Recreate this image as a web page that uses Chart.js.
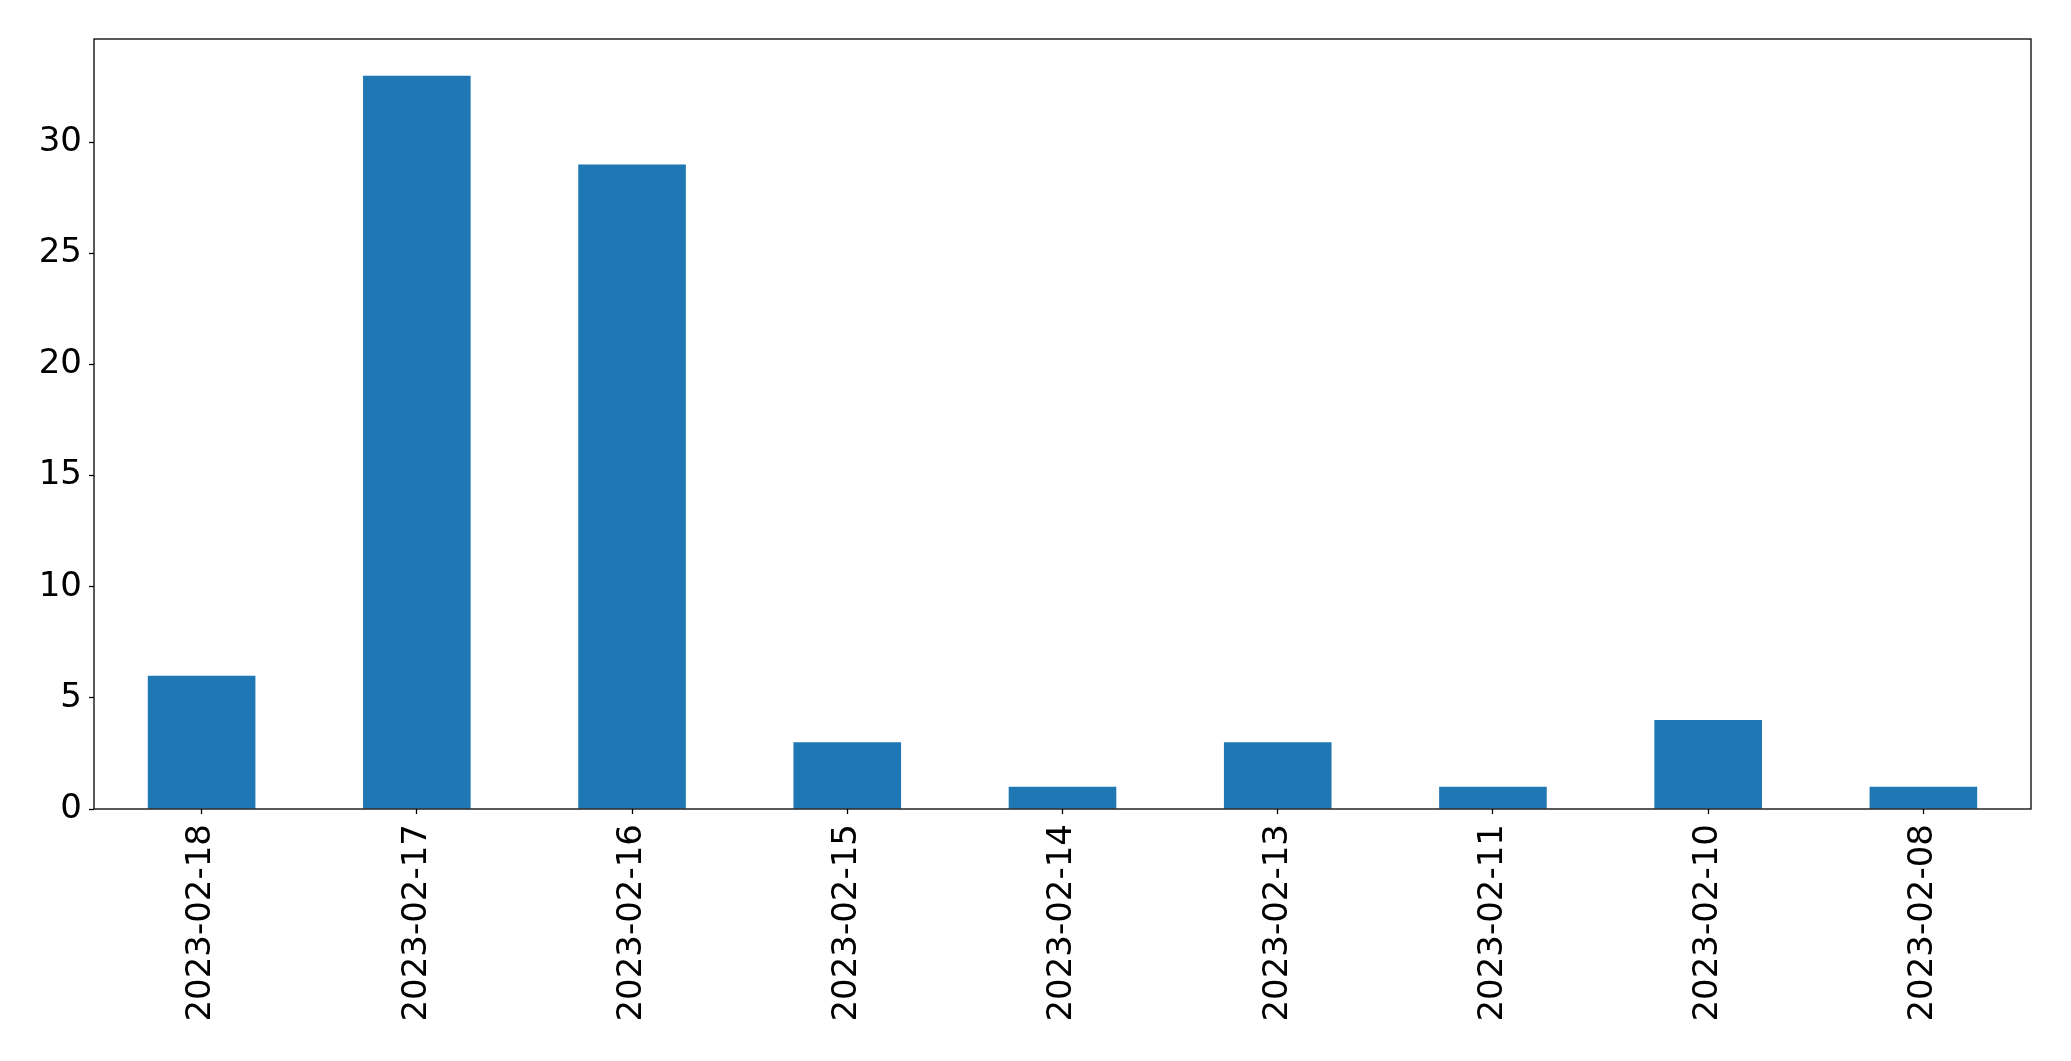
<!DOCTYPE html>
<html>
<head>
<meta charset="utf-8">
<script src="https://cdn.jsdelivr.net/npm/chart.js@4"></script>
<style>
  html, body { margin: 0; padding: 0; background: #fff; }
  #wrap { width: 2071px; height: 1061px; }
</style>
</head>
<body>
<div id="wrap"><canvas id="myChart" width="2071" height="1061"></canvas></div>
<script>
const fechas = ["2023-02-18", "2023-02-17", "2023-02-16", "2023-02-15", "2023-02-14", "2023-02-13", "2023-02-11", "2023-02-10", "2023-02-08"];
const conteos = [6, 33, 29, 3, 1, 3, 1, 4, 1];
const yMax = 34.65;
const yStep = 5;

// matplotlib style frame around the plot area
const framePlugin = {
    id: "frame",
    afterDraw(chart) {
        const {ctx, chartArea} = chart;
        ctx.save();
        ctx.strokeStyle = "#000";
        ctx.lineWidth = 1.3;
        ctx.strokeRect(chartArea.left, chartArea.top, chartArea.right - chartArea.left, chartArea.bottom - chartArea.top);
        ctx.restore();
    }
};

const fuente = { family: "'DejaVu Sans'", size: 34 };

new Chart(document.getElementById("myChart"), {
    type: "bar",
    data: {
        labels: fechas,
        datasets: [{
            data: conteos,
            backgroundColor: "#1f77b4",
            borderWidth: 0,
            barPercentage: 0.5,
            categoryPercentage: 1.0
        }]
    },
    options: {
        responsive: false,
        animation: false,
        layout: { padding: { top: 39, right: 40, left: 0, bottom: 0 } },
        plugins: { legend: { display: false }, tooltip: { enabled: false } },
        scales: {
            x: {
                offset: true,
                grid: { offset: false, drawOnChartArea: false, tickLength: 5, color: "#000", tickWidth: 1.3 },
                border: { display: false },
                ticks: { color: "#000", font: fuente, minRotation: 90, maxRotation: 90, padding: 10, autoSkip: false },
                afterFit: (scale) => { scale.height = 252; }
            },
            y: {
                min: 0,
                max: yMax,
                grid: { drawOnChartArea: false, tickLength: 5, color: "#000", tickWidth: 1.3 },
                border: { display: false },
                ticks: { color: "#000", font: fuente, stepSize: yStep, includeBounds: false, padding: 7 },
                afterFit: (scale) => { scale.width = 94; }
            }
        }
    },
    plugins: [framePlugin]
});
</script>
</body>
</html>
